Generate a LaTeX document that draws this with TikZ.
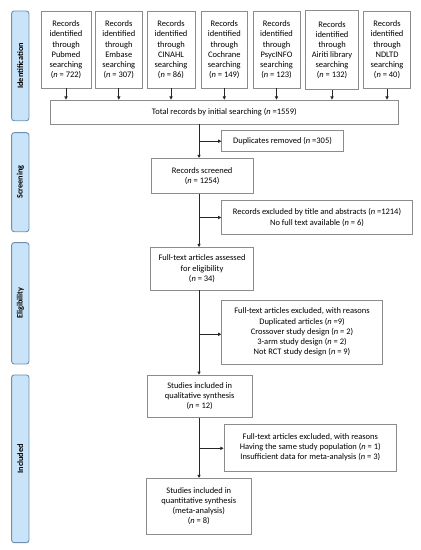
\documentclass[tikz,border=0pt]{standalone}
\usepackage{fontspec}
\setmainfont{Carlito}
\usetikzlibrary{arrows.meta}
\definecolor{boxline}{HTML}{8C8C8C}
\definecolor{sidefill}{HTML}{C9E4F8}
\definecolor{sideline}{HTML}{6E8FAE}
\tikzset{
  box/.style={draw=boxline, line width=0.7pt, fill=white, align=center, inner sep=1pt,
    font=\fontsize{8.5}{10.2}\selectfont},
  side/.style={draw=sideline, fill=sidefill, line width=0.9pt, rounded corners=2.5pt,
    minimum width=17.3bp, font=\fontsize{8.3}{9}\selectfont\bfseries},
  arr/.style={draw=black!85, line width=0.7pt, -{Triangle[length=3.2pt,width=3.2pt]}}
}
\begin{document}
\begin{tikzpicture}[x=1bp,y=-1bp]
\useasboundingbox (0,0) rectangle (420,550);
% side bars
\node[side, minimum height=109.7bp] (sid) at (20.3,65.9) {\rotatebox{90}{Identification}};
\node[side, minimum height=99bp] (sscr) at (20.3,182.2) {\rotatebox{90}{Screening}};
\node[side, minimum height=121.3bp] (selig) at (20.3,303.3) {\rotatebox{90}{Eligibility}};
\node[side, minimum height=167.7bp] (sinc) at (20.3,458.8) {\rotatebox{90}{Included}};
% top boxes
\node[box, minimum width=50bp, minimum height=76.5bp] (p1) at (66,49.8) {Records\\identified\\through\\Pubmed\\searching\\(\textit{n} = 722)};
\node[box, minimum width=47.7bp, minimum height=76.5bp] (p2) at (118.8,49.8) {Records\\identified\\through\\Embase\\searching\\(\textit{n} = 307)};
\node[box, minimum width=48bp, minimum height=76.5bp] (p3) at (171,49.8) {Records\\identified\\through\\CINAHL\\searching\\(\textit{n} = 86)};
\node[box, minimum width=46.7bp, minimum height=76.5bp] (p4) at (224.3,49.8) {Records\\identified\\through\\Cochrane\\searching\\(\textit{n} = 149)};
\node[box, minimum width=47bp, minimum height=76.5bp] (p5) at (276.5,49.8) {Records\\identified\\through\\PsycINFO\\searching\\(\textit{n} = 123)};
\node[box, minimum width=52.6bp, minimum height=79bp] (p6) at (332,50.2) {Records\\identified\\through\\Airiti library\\searching\\(\textit{n} = 132)};
\node[box, minimum width=47.4bp, minimum height=77bp] (p7) at (387,49.8) {Records\\identified\\through\\NDLTD\\searching\\(\textit{n} = 40)};
% main boxes
\node[box, minimum width=348bp, minimum height=24bp] (total) at (224.3,112) {Total records by initial searching (\textit{n} =1559)};
\node[box, minimum width=121.6bp, minimum height=21bp] (dup) at (282.5,141.2) {Duplicates removed (\textit{n} =305)};
\node[box, minimum width=102.3bp, minimum height=35bp] (scr) at (202.2,175.8) {Records screened\\(\textit{n} = 1254)};
\node[box, minimum width=190.6bp, minimum height=33.6bp] (ex1) at (317,217.5) {Records excluded by title and abstracts (\textit{n} =1214)\\No full text available (\textit{n} = 6)};
\node[box, minimum width=102.6bp, minimum height=42.7bp] (full) at (202,268.7) {Full-text articles assessed\\for eligibility\\(\textit{n} = 34)};
\node[box, minimum width=160.6bp, minimum height=64bp] (ex2) at (302,332) {Full-text articles excluded, with reasons\\Duplicated articles (\textit{n} =9)\\Crossover study design (\textit{n} = 2)\\3-arm study design (\textit{n} = 2)\\Not RCT study design (\textit{n} = 9)};
\node[box, minimum width=105.3bp, minimum height=42.3bp] (qual) at (199.7,396.2) {Studies included in\\qualitative synthesis\\(\textit{n} = 12)};
\node[box, minimum width=172.7bp, minimum height=47bp] (ex3) at (310.3,447.5) {Full-text articles excluded, with reasons\\Having the same study population (\textit{n} = 1)\\Insufficient data for meta-analysis (\textit{n} = 3)};
\node[box, minimum width=105.7bp, minimum height=56bp] (final) at (198.8,506.3) {Studies included in\\quantitative synthesis\\(meta-analysis)\\(\textit{n} = 8)};
% arrows from sources
\foreach \p in {p1,p2,p3,p4,p5,p6,p7}
  \draw[arr] (\p.south) -- (\p.south |- total.north);
% spine
\coordinate (spine) at (199,0);
\draw[arr] (spine |- total.south) -- (spine |- scr.north);
\draw[arr] (spine |- dup.west) -- (dup.west);
\draw[arr] (spine |- scr.south) -- (spine |- full.north);
\draw[arr] (spine |- ex1.west) -- (ex1.west);
\draw[arr] (spine |- full.south) -- (spine |- qual.north);
\draw[arr] ([yshift=-2.3bp]spine |- ex2.west) -- ([yshift=-2.3bp]ex2.west);
\draw[arr] (spine |- qual.south) -- (spine |- final.north);
\draw[arr] ([yshift=-0.8bp]spine |- ex3.west) -- ([yshift=-0.8bp]ex3.west);
\end{tikzpicture}
\end{document}
